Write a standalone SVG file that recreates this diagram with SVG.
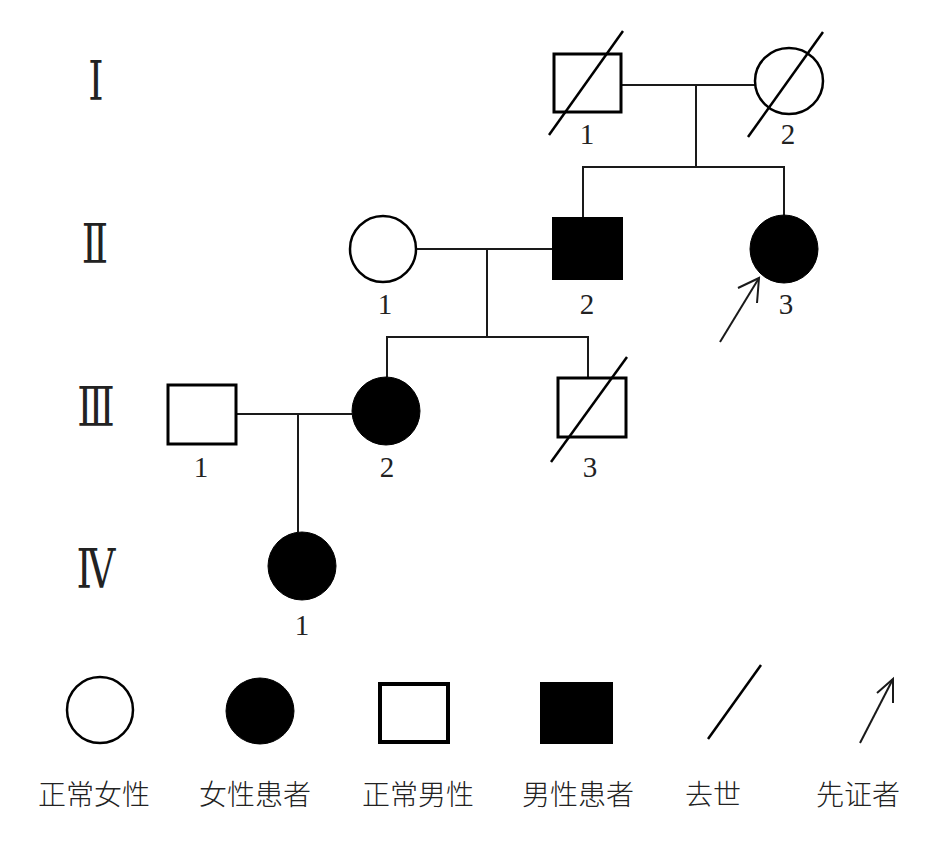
<svg xmlns="http://www.w3.org/2000/svg" width="945" height="855" viewBox="0 0 945 855">
<style>
.bg{fill:#fff}
.sq{fill:#fff;stroke:#000;stroke-width:3}
.sqf{fill:#000;stroke:#000;stroke-width:2}
.ci{fill:#fff;stroke:#000;stroke-width:2.5}
.cif{fill:#000;stroke:#000;stroke-width:1}
.ln{fill:none;stroke:#1a1a1a;stroke-width:2}
.dead{fill:none;stroke:#000;stroke-width:2.5}
.num{font-family:"Liberation Serif","DejaVu Serif",serif;font-size:29px;fill:#222;text-anchor:middle}
.gen{font-family:"Liberation Serif","DejaVu Serif",serif;font-size:54px;fill:#222;text-anchor:middle}
.leg{font-family:"Noto Sans CJK SC","Noto Sans CJK JP",sans-serif;font-size:28px;fill:#222;text-anchor:middle;font-weight:300}
</style>
<rect class="bg" x="0" y="0" width="945" height="855"/>
<g id="generations">
<text class="gen" transform="translate(96,100) scale(0.72,1)">Ⅰ</text>
<text class="gen" transform="translate(95,263) scale(0.72,1)">Ⅱ</text>
<text class="gen" transform="translate(96,426) scale(0.72,1)">Ⅲ</text>
<text class="gen" transform="translate(96,588) scale(0.72,1)">Ⅳ</text>
</g>
<g id="connectors">
<line class="ln" x1="621" y1="85" x2="755" y2="85"/>
<line class="ln" x1="696" y1="85" x2="696" y2="167"/>
<polyline class="ln" points="583,217 583,167 784,167 784,215"/>
<line class="ln" x1="416" y1="249" x2="552" y2="249"/>
<line class="ln" x1="487" y1="249" x2="487" y2="337"/>
<polyline class="ln" points="387,377 387,337 588,337 588,378"/>
<line class="ln" x1="236" y1="414" x2="352" y2="414"/>
<line class="ln" x1="298" y1="414" x2="298" y2="532"/>
</g>
<g id="I-1">
<rect class="sq" x="554" y="54" width="67" height="58"/>
<line class="dead" x1="549" y1="135" x2="623" y2="31"/>
<text class="num" x="587" y="144">1</text>
</g>
<g id="I-2">
<ellipse class="ci" cx="789" cy="81" rx="34" ry="33"/>
<line class="dead" x1="748" y1="137" x2="823" y2="32"/>
<text class="num" x="788" y="144">2</text>
</g>
<g id="II-1">
<ellipse class="ci" cx="383" cy="249" rx="33" ry="33"/>
<text class="num" x="385" y="314">1</text>
</g>
<g id="II-2">
<rect class="sqf" x="553" y="218" width="69" height="61"/>
<text class="num" x="587" y="314">2</text>
</g>
<g id="II-3">
<ellipse class="cif" cx="784" cy="249" rx="34" ry="34"/>
<text class="num" x="786" y="314">3</text>
<polyline class="ln" points="720,342 759,278"/>
<polyline class="ln" points="738,288 759,278 757,303"/>
</g>
<g id="III-1">
<rect class="sq" x="168" y="385" width="68" height="59"/>
<text class="num" x="201" y="477">1</text>
</g>
<g id="III-2">
<ellipse class="cif" cx="386" cy="411" rx="34" ry="34"/>
<text class="num" x="387" y="477">2</text>
</g>
<g id="III-3">
<rect class="sq" x="558" y="378" width="68" height="59"/>
<line class="dead" x1="551" y1="462" x2="627" y2="357"/>
<text class="num" x="590" y="477">3</text>
</g>
<g id="IV-1">
<ellipse class="cif" cx="302" cy="566" rx="34" ry="34"/>
<text class="num" x="302" y="635">1</text>
</g>
<g id="legend">
<ellipse class="ci" cx="100" cy="710" rx="33" ry="33"/>
<ellipse class="cif" cx="260" cy="711" rx="34" ry="33"/>
<rect x="380" y="684" width="68" height="58" fill="#fff" stroke="#000" stroke-width="4"/>
<rect class="sqf" x="541" y="683" width="71" height="60"/>
<line class="dead" x1="708" y1="739" x2="761" y2="665"/>
<line class="ln" x1="860" y1="743" x2="893" y2="679"/>
<polyline class="ln" points="877,693 893,679 893,703"/>
<text class="leg" x="94" y="805">正常女性</text>
<text class="leg" x="255" y="805">女性患者</text>
<text class="leg" x="418" y="805">正常男性</text>
<text class="leg" x="578" y="805">男性患者</text>
<text class="leg" x="713" y="805">去世</text>
<text class="leg" x="858" y="805">先证者</text>
</g>
</svg>
